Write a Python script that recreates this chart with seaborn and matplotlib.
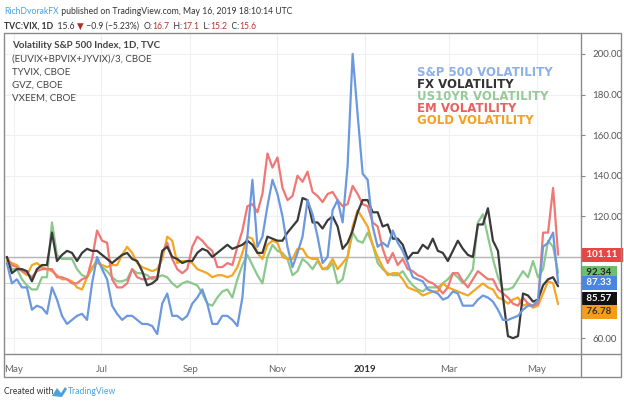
import matplotlib
matplotlib.use('Agg')
import matplotlib.pyplot as plt
from matplotlib.lines import Line2D
from matplotlib.patches import Rectangle, Polygon
from matplotlib.transforms import blended_transform_factory
from matplotlib import font_manager
import pandas as pd
import seaborn as sns

# twice-weekly readings, indexed to 100
dates = pd.date_range('2018-04-26', periods=111, freq='84h')

spx = [97, 87, 89, 85, 85, 74, 76, 75, 72, 85,
       79, 71, 67, 69, 71, 72, 69, 87, 100, 94,
       89, 76, 72, 69, 71, 71, 69, 67, 67, 66,
       62, 77, 82, 71, 71, 69, 71, 77, 80, 84,
       77, 67, 67, 71, 71, 69, 66, 80, 110, 138,
       105, 110, 125, 138, 131, 120, 105, 95, 102, 110,
       128, 121, 110, 97, 100, 123, 128, 117, 145, 200,
       170, 141, 138, 115, 105, 107, 105, 113, 107, 103,
       97, 90, 89, 88, 84, 83, 82, 79, 80, 83,
       82, 76, 76, 76, 79, 81, 80, 78, 74, 69,
       69, 70, 71, 74, 76, 76, 79, 105, 107, 112,
       87.33]
fx = [100, 92, 94, 94, 93, 88, 94, 96, 96, 112,
      98, 101, 103, 102, 98, 102, 104, 103, 103, 101,
      99, 97, 99, 101, 102, 99, 98, 93, 86, 87,
      89, 103, 105, 100, 99, 97, 98, 98, 102, 104,
      103, 100, 102, 104, 106, 104, 105, 106, 108, 106,
      102, 102, 110, 109, 108, 108, 112, 115, 118, 129,
      128, 117, 117, 114, 118, 120, 115, 104, 107, 113,
      122, 128, 128, 122, 122, 115, 116, 109, 109, 106,
      99, 102, 102, 106, 104, 109, 103, 102, 98, 103,
      108, 104, 101, 100, 116, 116, 124, 108, 103, 80,
      61, 60, 61, 82, 81, 78, 79, 86, 89, 90,
      85.57]
us10 = [100, 94, 94, 89, 86, 84, 84, 90, 90, 117,
        101, 99, 99, 99, 94, 91, 90, 94, 99, 95,
        93, 90, 88, 88, 89, 94, 92, 92, 91, 89,
        90, 91, 90, 87, 85, 87, 88, 87, 86, 82,
        77, 76, 80, 83, 84, 80, 89, 96, 101, 96,
        91, 87, 100, 106, 103, 102, 99, 91, 93, 99,
        97, 94, 98, 94, 94, 97, 87, 89, 100, 112,
        108, 107, 112, 106, 97, 94, 92, 91, 91, 93,
        89, 86, 84, 83, 85, 85, 85, 87, 89, 92,
        90, 87, 90, 94, 117, 121, 110, 99, 90, 84,
        84, 85, 89, 93, 90, 98, 90, 94, 108, 105,
        92.34]
em = [100, 96, 95, 93, 92, 90, 93, 94, 94, 94,
      90, 90, 89, 87, 87, 89, 90, 99, 113, 108,
      107, 89, 85, 85, 87, 94, 90, 89, 89, 90,
      90, 102, 107, 99, 94, 92, 94, 105, 110, 108,
      105, 103, 95, 95, 97, 96, 105, 113, 125, 126,
      122, 131, 151, 144, 149, 134, 128, 130, 140, 137,
      142, 132, 130, 127, 131, 132, 128, 125, 126, 135,
      131, 126, 125, 117, 115, 104, 97, 102, 96, 99,
      94, 93, 91, 90, 88, 87, 85, 82, 85, 92,
      92, 88, 85, 89, 93, 91, 89, 89, 84, 82,
      80, 77, 76, 80, 77, 76, 77, 112, 112, 134,
      101.11]
gold = [98, 97, 96, 93, 91, 96, 97, 95, 94, 93,
        91, 89, 89, 88, 85, 84, 90, 95, 97, 96,
        95, 96, 96, 101, 105, 102, 97, 95, 94, 93,
        94, 99, 110, 108, 97, 98, 98, 97, 94, 93,
        92, 90, 91, 91, 90, 91, 95, 102, 110, 109,
        102, 99, 106, 108, 107, 100, 99, 99, 104, 104,
        100, 99, 99, 94, 95, 99, 94, 97, 100, 115,
        123, 119, 115, 106, 100, 95, 91, 92, 92, 89,
        85, 84, 83, 81, 82, 83, 83, 87, 85, 84,
        83, 82, 81, 83, 85, 87, 85, 84, 80, 79,
        77, 79, 80, 76, 77, 75, 76, 82, 88, 87,
        76.78]

names = ['US10YR', 'GOLD', 'EM', 'FX', 'S&P 500']
series = [us10, gold, em, fx, spx]
line_colors = {'S&P 500': '#6b98de', 'FX': '#3a3a3a', 'US10YR': '#8cc88c',
               'EM': '#f07775', 'GOLD': '#f5a623'}

month_ticks = pd.to_datetime(['2018-05-01', '2018-07-01', '2018-09-01', '2018-11-01',
                              '2019-01-01', '2019-03-01', '2019-05-01'])
month_labels = ['May', 'Jul', 'Sep', 'Nov', '2019', 'Mar', 'May']

label_names = ['S&P 500 VOLATILITY', 'FX VOLATILITY', 'US10YR VOLATILITY', 'EM VOLATILITY', 'GOLD VOLATILITY']
label_colors = ['#8eb0e8', '#333333', '#98c998', '#e8605f', '#f5a020']

tag_names = ['EM', 'US10YR', 'S&P 500', 'FX', 'GOLD']
tag_pos = [101.11, 92.34, 87.33, 79.3, 72.9]
tag_colors = ['#e84545', '#6dbf6d', '#4a86e0', '#111111', '#f59d1a']
tag_text_colors = ['white', '#222222', 'white', 'white', '#333333']

df = pd.concat([pd.DataFrame({'date': dates, 'value': v, 'series': n})
                for n, v in zip(names, series)])

sns.set_style('white')
plt.rcParams['font.family'] = ['Lato', 'DejaVu Sans']

# narrow face for the TradingView captions, if present
installed = {f.name for f in font_manager.fontManager.ttflist}
narrow = ['Liberation Sans Narrow', 'DejaVu Sans'] if 'Liberation Sans Narrow' in installed else ['Lato', 'DejaVu Sans']
cap_size = 7.5 if narrow[0] == 'Liberation Sans Narrow' else 6.2

W, H = 624, 405
fig = plt.figure(figsize=(W / 100, H / 100), dpi=100)
def fx_(px): return px / W
def fy_(py): return 1 - py / H

ax = fig.add_axes([fx_(4), fy_(354), (581 - 4) / W, (354 - 33) / H])
ax.grid(True, color='#eef0f4', lw=0.8)
ax.axhline(100, color='#b5b5b5', lw=1, zorder=1)
ax.axhline(spx[-1], color='#d4d4d4', lw=0.8, zorder=1)

sns.lineplot(data=df, x='date', y='value', hue='series', hue_order=names,
             palette=line_colors, lw=1.6, legend=False, ax=ax, zorder=3)

ax.set_xlim(pd.Timestamp('2018-04-24'), pd.Timestamp('2019-06-01'))
ax.set_ylim(52.2, 210.3)
ax.set_xlabel('')
ax.set_ylabel('')
for s in ax.spines.values():
    s.set_visible(False)

ax.set_xticks(month_ticks)
ax.set_xticklabels(month_labels)
ax.tick_params(axis='x', length=3, color='#888888', pad=5, labelsize=7, labelcolor='#666666')
for t in ax.get_xticklabels():
    if t.get_text() == '2019':
        t.set_color('#333333')
        t.set_fontweight('bold')

# 80 and 100 sit under the price tags
yt = list(range(60, 201, 20))
ax.yaxis.tick_right()
ax.set_yticks(yt)
ax.set_yticklabels(['' if v in (80, 100) else f'{v:.2f}' for v in yt])
ax.tick_params(axis='y', length=3, color='#888888', pad=5, labelsize=7, labelcolor='#555555')

# price tags on the right scale
tr = blended_transform_factory(ax.transAxes, ax.transData)
for n, p, c, tc in zip(tag_names, tag_pos, tag_colors, tag_text_colors):
    ax.text(1.006, p, f' {series[names.index(n)][-1]:.2f} ', transform=tr, ha='left', va='center',
            fontsize=7, color=tc, fontweight='bold', zorder=5, clip_on=False,
            bbox=dict(boxstyle='square,pad=0.25', fc=c, ec='none'))

# frame
frame_c = '#8a8a8a'
fig.patches.append(Rectangle((fx_(4), fy_(377)), (621 - 4) / W, (377 - 33) / H, transform=fig.transFigure,
                             fill=False, ec=frame_c, lw=1))
fig.lines.append(Line2D([fx_(4), fx_(621)], [fy_(354), fy_(354)], transform=fig.transFigure, color=frame_c, lw=1))
fig.lines.append(Line2D([fx_(581), fx_(581)], [fy_(33), fy_(377)], transform=fig.transFigure, color=frame_c, lw=1))

# legend block top-left
legend_lines = ['Volatility S&P 500 Index, 1D, TVC', '(EUVIX+BPVIX+JYVIX)/3, CBOE', 'TYVIX, CBOE',
                'GVZ, CBOE', 'VXEEM, CBOE']
for i, t in enumerate(legend_lines):
    fig.text(fx_(12), fy_(46 + 13 * i), t, fontsize=7, color='#444444', va='center',
             fontweight='bold' if i == 0 else 'normal')

# big coloured labels
for i, (t, c) in enumerate(zip(label_names, label_colors)):
    fig.text(fx_(417), fy_(72 + 12 * i), t, fontsize=8.5, color=c, va='center',
             fontweight='bold', family='DejaVu Sans')

# header
dark = '#333333'
red = '#b03a2e'
t1 = fig.text(fx_(4), fy_(16), 'RichDvorakFX', fontsize=cap_size, color='#4aa3df', va='bottom', family=narrow)
fig.add_artist(plt.Annotation(' published on TradingView.com, May 16, 2019 18:10:14 UTC',
                              xy=(1, 0), xycoords=t1, va='bottom', fontsize=cap_size, color=dark, family=narrow))
parts = [('TVC:VIX, 1D', dark, 'bold'), ('  15.6 ', dark, 'normal'), ('▼', '#b0302a', 'normal'),
         (' \u22120.9 (\u22125.23%)  ', dark, 'normal'), ('O:', dark, 'normal'), ('16.7', red, 'normal'),
         ('  H:', dark, 'normal'), ('17.1', red, 'normal'), ('  L:', dark, 'normal'), ('15.2', red, 'normal'),
         ('  C:', dark, 'normal'), ('15.6', red, 'normal')]
prev = fig.text(fx_(4), fy_(31), parts[0][0], fontsize=cap_size, color=parts[0][1], fontweight=parts[0][2],
                va='bottom', family=narrow)
for txt, c, w in parts[1:]:
    prev = fig.add_artist(plt.Annotation(txt, xy=(1, 0), xycoords=prev, va='bottom', fontsize=cap_size,
                                         color=c, fontweight=w, family=narrow))

# footer
fig.text(fx_(4), fy_(392), 'Created with', fontsize=cap_size, color=dark, va='center', family=narrow)
fig.patches.append(Polygon([(fx_(52), fy_(396)), (fx_(57), fy_(388)), (fx_(61), fy_(393)),
                            (fx_(65), fy_(387)), (fx_(67), fy_(389)), (fx_(62), fy_(397))],
                           closed=True, transform=fig.transFigure, fc='#4aa3df', ec='none'))
fig.text(fx_(68), fy_(392), 'TradingView', fontsize=cap_size, color='#4aa3df', va='center', family=narrow)

fig.savefig('out.png', dpi=100, facecolor='white')
